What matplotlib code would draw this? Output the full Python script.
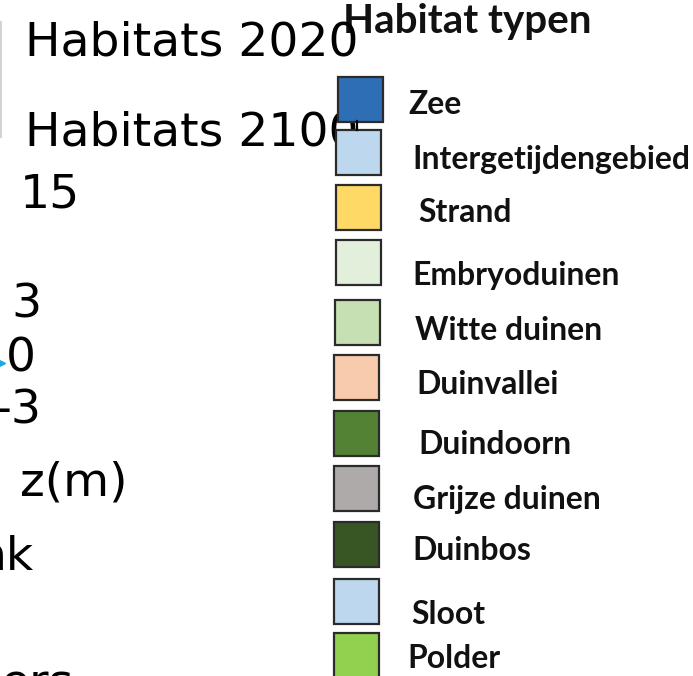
import matplotlib
matplotlib.use("Agg")
import matplotlib.pyplot as plt
from matplotlib.patches import Rectangle

W, H = 693, 676

# ---- data ----
habitat_names = ["Zee", "Intergetijdengebied", "Strand", "Embryoduinen", "Witte duinen",
                 "Duinvallei", "Duindoorn", "Grijze duinen", "Duinbos", "Sloot", "Polder"]
habitat_colors = ["#2e6eb5", "#bdd7ee", "#ffd966", "#e2efda", "#c6e0b4",
                  "#f8cbad", "#548235", "#aeaaaa", "#375623", "#bdd7ee", "#92d050"]
legend_title = "Habitat typen"
panel_titles = ["Habitats 2020", "Habitats 2100"]
z_ticks = ["15", "3", "0", "-3"]
z_label = "z(m)"
cut_labels = ["nk", "ers"]

# ---- layout (pixels) ----
sq_top = [77, 130, 185, 240, 300, 355, 411, 466, 522, 579, 633]
sq_left = [338, 336, 336, 336, 335, 334, 334, 334, 334, 334, 334]
sq_size = 45
lab_x = [408, 412, 418, 412, 415, 416, 418, 413, 412, 411, 407]
lab_y = [104, 160, 212, 276, 331, 385, 444, 499, 551, 615, 659]

fig = plt.figure(figsize=(W / 100, H / 100), dpi=100)
ax = fig.add_axes([0, 0, 1, 1])
ax.set_xlim(0, W)
ax.set_ylim(H, 0)
ax.axis("off")

big = dict(family="DejaVu Sans", fontsize=34, color="black", va="baseline", ha="left")

# panel titles
ax.text(25, 55, panel_titles[0], zorder=5, **big)
ax.text(25, 145, panel_titles[1], zorder=1, **big)
# z ticks
tick_pos = [(20, 208), (11, 318), (6, 372), (-5, 423)]
for s, (x, y) in zip(z_ticks, tick_pos):
    ax.text(x, y, s, zorder=1, **big)
ax.text(20, 496, z_label, zorder=1, **big)
ax.text(-23, 570, cut_labels[0], zorder=1, **big)
ax.text(0, 697, cut_labels[1], zorder=1, **big)

# faint left frame line and arrow tip
ax.plot([1, 1], [22, 137], color="#d4d4d4", lw=1.5, zorder=1)
ax.plot([0], [363], marker=">", color="#1fa8e0", markersize=7, zorder=2, clip_on=False)

# legend squares
for i, (name, col) in enumerate(zip(habitat_names, habitat_colors)):
    ax.add_patch(Rectangle((sq_left[i], sq_top[i]), sq_size, sq_size, facecolor=col,
                           edgecolor="#2b2b2b", lw=1.6, zorder=3))
# connector between first two squares
ax.plot([357, 357], [121, 130], color="black", lw=1.6, zorder=3)

lab_style = dict(family="Lato", fontweight="bold", color="#111111", va="center", ha="left", zorder=4)
title = ax.text(343, 33, legend_title, fontsize=22, family="Lato", fontweight="bold",
                color="#111111", va="baseline", ha="left", zorder=4)
labels = [ax.text(x, y, n, fontsize=20, **lab_style) for n, x, y in zip(habitat_names, lab_x, lab_y)]

# fit label sizes to measured widths
fig.canvas.draw()
r = fig.canvas.get_renderer()
def fit(t, target):
    bb = t.get_window_extent(r)
    t.set_fontsize(t.get_fontsize() * target / bb.width)
fit(title, 248)
fs_before = labels[1].get_fontsize()
fit(labels[1], 279)
for t in labels:
    t.set_fontsize(labels[1].get_fontsize())

fig.savefig("out.png", dpi=100)
